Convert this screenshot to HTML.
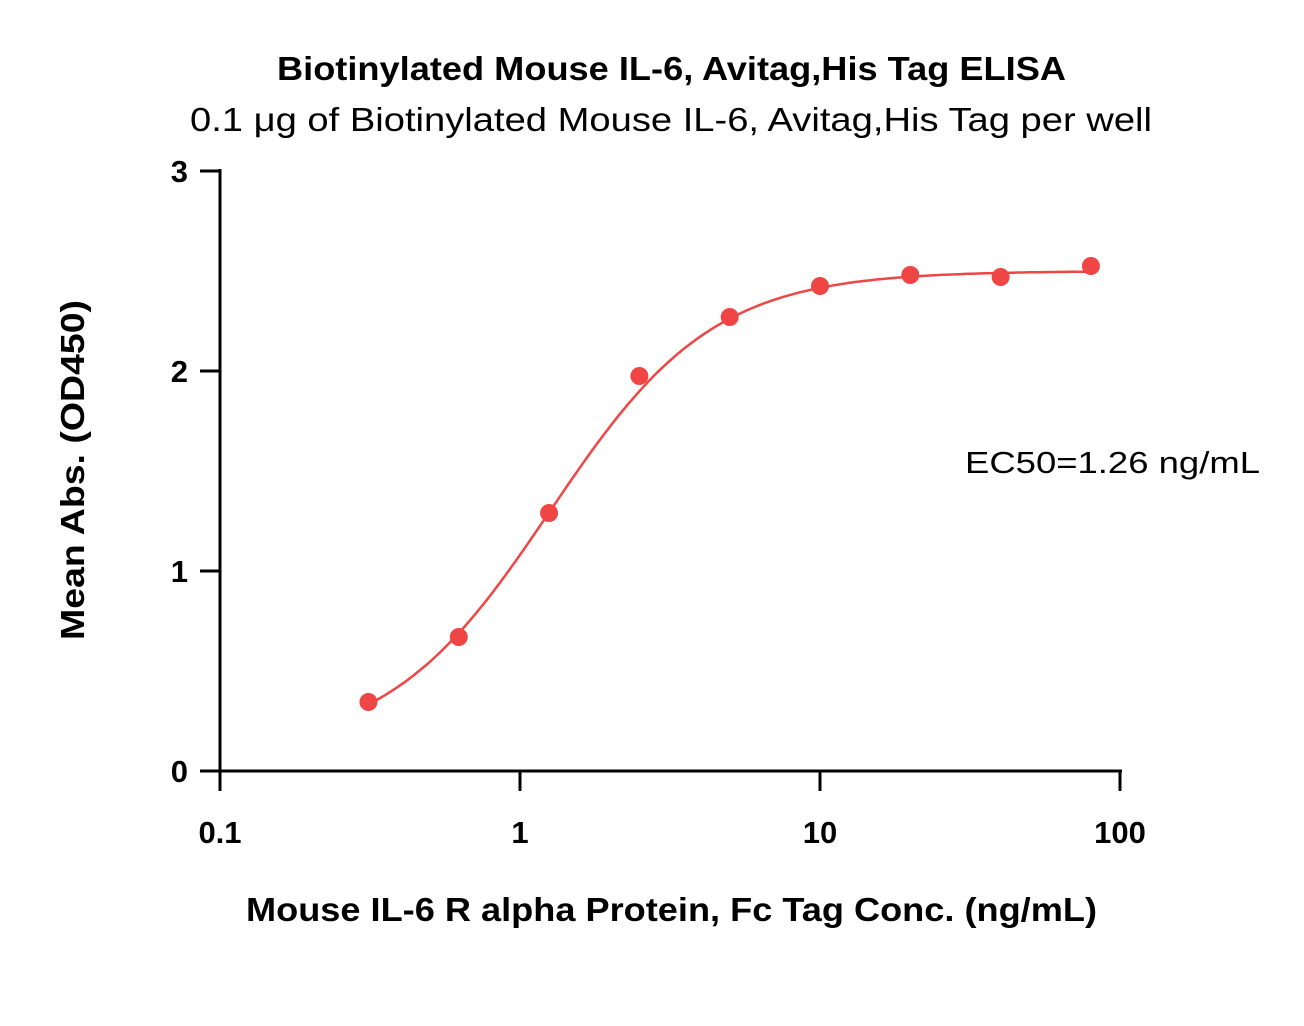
<!DOCTYPE html>
<html><head><meta charset="utf-8"><style>
html,body{margin:0;padding:0;background:#fff;}
svg{display:block;font-family:"Liberation Sans",sans-serif;}
</style></head><body>
<svg id="chart" width="1304" height="1026" viewBox="0 0 1304 1026">
<text x="277" y="80" textLength="789" lengthAdjust="spacingAndGlyphs" font-size="33" font-weight="bold">Biotinylated Mouse IL-6, Avitag,His Tag ELISA</text>
<text x="190" y="131" textLength="962" lengthAdjust="spacingAndGlyphs" font-size="33">0.1 μg of Biotinylated Mouse IL-6, Avitag,His Tag per well</text>
<text x="965" y="473" textLength="295" lengthAdjust="spacingAndGlyphs" font-size="31">EC50=1.26 ng/mL</text>
<text x="246" y="921" textLength="851" lengthAdjust="spacingAndGlyphs" font-size="33" font-weight="bold">Mouse IL-6 R alpha Protein, Fc Tag Conc. (ng/mL)</text>
<text transform="translate(84,640) rotate(-90)" textLength="340" lengthAdjust="spacingAndGlyphs" font-size="33" font-weight="bold">Mean Abs. (OD450)</text>
<g id="axes"></g>
<path id="fit" fill="none" stroke="#f04545" stroke-width="2.5"></path>
<g id="pts"></g>
</svg>
<script>
const concs=[0.3125,0.625,1.25,2.5,5,10,20,40,80];
const absVals=[0.345,0.67,1.29,1.975,2.27,2.425,2.48,2.47,2.525];
const fitParams=[0.1,2.5,1.26,1.6]; // bottom, top, EC50, hill
const xTicks=[0.1,1,10,100];
const xTickLabels=["0.1","1","10","100"];
const yTicks=[0,1,2,3];
const yTickLabels=["0","1","2","3"];
const NS="http://www.w3.org/2000/svg";
const X0=220,X1=1120,Y0=771,Y1=171;
function sx(v){return X0+(Math.log10(v)+1)/3*(X1-X0);}
function sy(v){return Y0-v/3*(Y0-Y1);}
function mk(t,a,p){const e=document.createElementNS(NS,t);for(const k in a)e.setAttribute(k,a[k]);p.appendChild(e);return e;}
const ax=document.getElementById('axes');
let l=mk('line',{x1:X0,y1:Y1-2,x2:X0,y2:Y0+1.5,stroke:'#000','stroke-width':3},ax);


l=mk('line',{x1:X0-1.5,y1:Y0,x2:X1+2,y2:Y0,stroke:'#000','stroke-width':3},ax);


yTicks.forEach((v,i)=>{const y=sy(v);
 const t=mk('line',{x1:X0-20,y1:y,x2:X0,y2:y,stroke:'#000','stroke-width':3},ax);
 
 
 const tx=mk('text',{x:X0-32,y:y+11,'text-anchor':'end','font-size':31,'font-weight':'bold'},ax);tx.textContent=yTickLabels[i];
 
 
});
xTicks.forEach((v,i)=>{const x=sx(v);
 const t=mk('line',{x1:x,y1:Y0,x2:x,y2:Y0+20,stroke:'#000','stroke-width':3},ax);
 
 
 const tx=mk('text',{x:x,y:Y0+72,'text-anchor':'middle','font-size':31,'font-weight':'bold'},ax);tx.textContent=xTickLabels[i];
 
 
});
function f(c){const [b,t,e,h]=fitParams;return b+(t-b)/(1+Math.pow(e/c,h));}
let d='';const lo=Math.log10(concs[0]),hi=Math.log10(concs[concs.length-1]);
for(let i=0;i<=200;i++){const c=Math.pow(10,lo+(hi-lo)*i/200);d+=(i?'L':'M')+sx(c).toFixed(1)+','+sy(f(c)).toFixed(1);}
document.getElementById('fit').setAttribute('d',d);
const pg=document.getElementById('pts');
concs.forEach((c,i)=>{const p=mk('circle',{cx:sx(c),cy:sy(absVals[i]),r:9,fill:'#f04545'},pg);
 
 
});
</script>
</body></html>
